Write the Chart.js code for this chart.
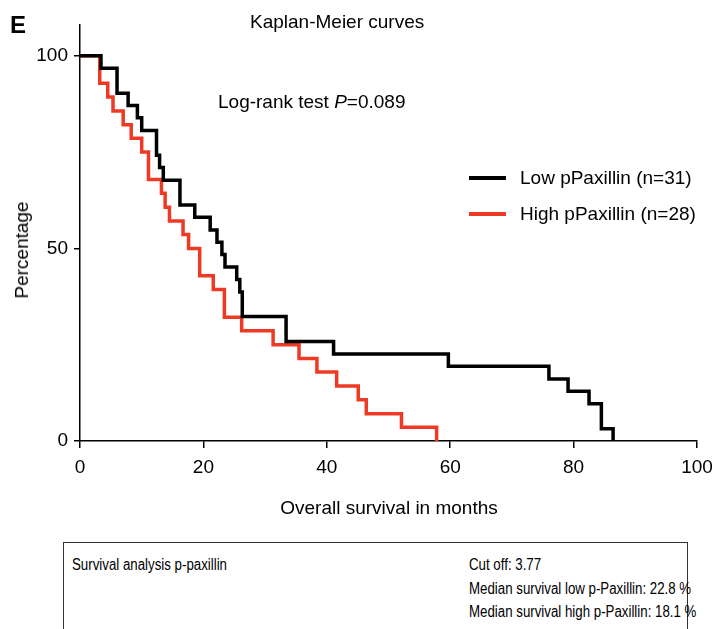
<!DOCTYPE html>
<html>
<head>
<meta charset="UTF-8"/>
<script src="https://cdn.jsdelivr.net/npm/chart.js@4"></script>
<style>
  body { margin:0; padding:0; background:#fff; font-family:'Liberation Sans', Arial, sans-serif; color:#000; }
  #wrap { position:relative; width:716px; height:629px; overflow:hidden; }
  #chartBox { position:absolute; left:0; top:0; width:716px; height:530px; }
  .t { position:absolute; white-space:nowrap; font-size:19px; line-height:22px; transform:translateY(-50%); }
  .leg { position:absolute; height:4px; width:37px; left:469px; }
  #info { position:absolute; left:63px; top:542px; width:623px; height:120px; border:1px solid #333; }
  #info .t { font-size:16px; transform:translateY(-50%) scaleX(0.83); transform-origin:left center; }
</style>
</head>
<body>
<div id="wrap">
  <div id="chartBox"><canvas id="km"></canvas></div>

  <div class="t" style="left:10px;top:25px;font-weight:bold;font-size:24px;">E</div>
  <div class="t" style="left:250px;top:22px;">Kaplan-Meier curves</div>
  <div class="t" style="left:218px;top:102px;">Log-rank test <i>P</i>=0.089</div>

  <div class="leg" style="top:176px;background:#000;"></div>
  <div class="t" style="left:520px;top:178px;">Low pPaxillin (n=31)</div>
  <div class="leg" style="top:212px;background:#ee3a25;"></div>
  <div class="t" style="left:520px;top:214px;">High pPaxillin (n=28)</div>

  <div class="t" style="left:22px;top:250px;transform:translate(-50%,-50%) rotate(-90deg);">Percentage</div>
  <div class="t" style="left:389px;top:508px;transform:translate(-50%,-50%);">Overall survival in months</div>

  <div id="info">
    <div class="t" style="left:8px;top:22px;">Survival analysis p-paxillin</div>
    <div class="t" style="left:405px;top:22px;">Cut off: 3.77</div>
    <div class="t" style="left:405px;top:46px;">Median survival low p-Paxillin: 22.8 %</div>
    <div class="t" style="left:405px;top:69px;">Median survival high p-Paxillin: 18.1 %</div>
  </div>
</div>

<script>
  // Kaplan-Meier steps (months, % surviving after each drop)
  const lowTimes = [0, 3.4, 6.0, 7.8, 9.3, 10.0, 12.4, 12.9, 13.5, 16.2, 18.6, 21.1, 22.2, 23.0, 23.5, 25.4, 25.9, 26.3, 33.4, 41.1, 59.7, 76.0, 79.1, 82.5, 84.5, 86.4];
  const lowSurv  = [100, 96.8, 90.3, 87.1, 83.9, 80.6, 74.2, 71.0, 67.7, 61.3, 58.1, 54.8, 51.6, 48.4, 45.2, 41.9, 38.7, 32.3, 25.8, 22.6, 19.4, 16.1, 12.9, 9.7, 3.2, 0];

  const highTimes = [0, 3.2, 4.5, 5.35, 7.0, 8.3, 10.0, 11.1, 13.2, 13.8, 14.5, 16.7, 17.6, 19.4, 21.6, 23.4, 26.2, 31.3, 35.5, 38.4, 41.6, 45.1, 46.4, 52.1, 57.8];
  const highSurv  = [100, 92.9, 89.3, 85.7, 82.1, 78.6, 75.0, 67.9, 64.3, 60.7, 57.1, 53.6, 50.0, 42.9, 39.3, 32.1, 28.6, 25.0, 21.4, 17.9, 14.3, 10.7, 7.1, 3.6, 0];

  const xTicks = [0, 20, 40, 60, 80, 100];
  const yTicks = [0, 50, 100];

  const toPts = (t, s) => t.map((x, i) => ({ x, y: s[i] }));

  const tickFont = { family: "'Liberation Sans', Arial, sans-serif", size: 19 };

  new Chart(document.getElementById('km'), {
    type: 'line',
    data: {
      datasets: [
        { label: 'Low pPaxillin (n=31)', data: toPts(lowTimes, lowSurv), borderColor: '#000', borderWidth: 3.5, stepped: 'before', pointRadius: 0, fill: false },
        { label: 'High pPaxillin (n=28)', data: toPts(highTimes, highSurv), borderColor: '#ee3a25', borderWidth: 3.5, stepped: 'before', pointRadius: 0, fill: false }
      ]
    },
    options: {
      responsive: true,
      maintainAspectRatio: false,
      animation: false,
      layout: { padding: { top: 25, right: 19, left: 0, bottom: 0 } },
      plugins: { legend: { display: false }, tooltip: { enabled: false } },
      scales: {
        x: {
          type: 'linear', min: 0, max: 100,
          afterBuildTicks: s => { s.ticks = xTicks.map(v => ({ value: v })); },
          afterFit: s => { s.height = 89; s.paddingLeft = 0; s.paddingRight = 0; },
          ticks: { color: '#000', font: tickFont, padding: 8, maxRotation: 0 },
          grid: { drawOnChartArea: false, drawTicks: true, tickLength: 7, color: '#000', lineWidth: 1.5 },
          border: { display: true, color: '#000', width: 1.5 }
        },
        y: {
          type: 'linear', min: 0, max: 108,
          afterBuildTicks: s => { s.ticks = yTicks.map(v => ({ value: v })); },
          afterFit: s => { s.width = 80; s.paddingTop = 0; s.paddingBottom = 0; },
          ticks: { color: '#000', font: tickFont, padding: 6 },
          grid: { drawOnChartArea: false, drawTicks: true, tickLength: 6, color: '#000', lineWidth: 1.5 },
          border: { display: true, color: '#000', width: 1.5 }
        }
      }
    }
  });
</script>
</body>
</html>
